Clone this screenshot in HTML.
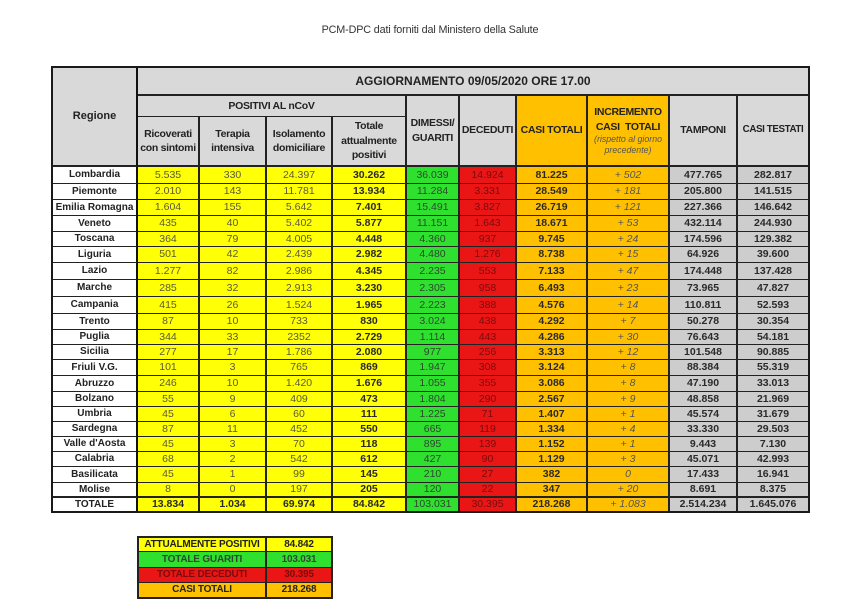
<!DOCTYPE html>
<html>
<head>
<meta charset="utf-8">
<style>
html,body{margin:0;padding:0;background:#fff;}
body{width:851px;height:614px;position:relative;overflow:hidden;font-family:"Liberation Sans",Arial,sans-serif;}
.title{position:absolute;left:0;top:24px;width:860px;text-align:center;font-size:10.8px;color:#333;letter-spacing:-0.15px;}
.t{position:absolute;left:51px;top:66px;width:755px;border:2px solid #1a1a1a;display:grid;
grid-template-columns:85px 62px 67px 66px 74px 53px 57px 71px 82px 68px 70px;
grid-template-rows:28px 21px 50px 17px 16px 16px 16px 15px 16px 17px 17px 17px 16px 15px 15px 16px 16px 15px 15px 15px 15px 15px 16px 15px 13px;
background:#fff;}
.t>div{box-sizing:border-box;border-right:2px solid #222;border-bottom:1px solid #222;display:flex;align-items:center;justify-content:center;text-align:center;overflow:hidden;line-height:1;font-size:10.5px;white-space:nowrap;}
.h{background:#d9d9d9;color:#222;font-weight:bold;font-size:10.5px !important;line-height:14.5px !important;letter-spacing:-0.3px;}
.ho{background:#ffc000;color:#222;font-weight:bold;font-size:10.5px !important;line-height:14.5px !important;letter-spacing:-0.3px;}
.bb{border-bottom:2px solid #222 !important;}
.nr{border-right:none !important;}
.c0{background:#fff;color:#222;font-weight:bold;font-size:10px !important;border-right:2px solid #111 !important;}
.y{background:#ffff05;color:#5a5a3a;}
.yb{background:#ffff05;color:#2a2a2a;font-weight:bold;}
.g{background:#2fe02f;color:#2b4a2b;}
.r{background:#ea1515;color:#7a0c0c;}
.o{background:#ffc000;color:#2a2a2a;font-weight:bold;}
.oi{background:#ffc000;color:#555;font-style:italic;}
.gr{background:#cdcdcd;color:#2a2a2a;font-weight:bold;}
.sm{font-style:italic;font-weight:normal;font-size:8.8px;line-height:11px;color:#555;letter-spacing:0;}
.s{position:absolute;left:137px;top:536px;width:192px;border:2px solid #222;display:grid;grid-template-columns:128px 64px;grid-template-rows:14px 16px 15px 14px;}
.s>div{box-sizing:border-box;border-right:2px solid #222;border-bottom:1px solid #222;display:flex;align-items:center;justify-content:center;font-weight:bold;font-size:10px;color:#222;white-space:nowrap;line-height:1;letter-spacing:-0.2px;}
.s>div:nth-child(2n){border-right:none;}
.s>div:nth-last-child(-n+2){border-bottom:none;}
</style>
</head>
<body>
<div class="title">PCM-DPC dati forniti dal Ministero della Salute</div>

<div class="t">
<div class="h" style="grid-row:1/4;grid-column:1;border-right:2px solid #111;border-bottom:2px solid #222;font-size:11px !important;letter-spacing:0;">Regione</div>
<div class="h nr" style="grid-row:1;grid-column:2/12;border-bottom:2px solid #222;font-size:12px !important;letter-spacing:0;">AGGIORNAMENTO 09/05/2020 ORE 17.00</div>
<div class="h" style="grid-row:2;grid-column:2/6;">POSITIVI AL nCoV</div>
<div class="h bb" style="grid-row:3;grid-column:2;">Ricoverati<br>con sintomi</div>
<div class="h bb" style="grid-row:3;grid-column:3;">Terapia<br>intensiva</div>
<div class="h bb" style="grid-row:3;grid-column:4;">Isolamento<br>domiciliare</div>
<div class="h bb" style="grid-row:3;grid-column:5;">Totale<br>attualmente<br>positivi</div>
<div class="h bb" style="grid-row:2/4;grid-column:6;">DIMESSI/<br>GUARITI</div>
<div class="h bb" style="grid-row:2/4;grid-column:7;">DECEDUTI</div>
<div class="ho bb" style="grid-row:2/4;grid-column:8;">CASI TOTALI</div>
<div class="ho bb" style="grid-row:2/4;grid-column:9;flex-direction:column;">INCREMENTO<br>CASI&nbsp; TOTALI<span class="sm">(rispetto al giorno<br>precedente)</span></div>
<div class="h bb" style="grid-row:2/4;grid-column:10;">TAMPONI</div>
<div class="h bb nr" style="grid-row:2/4;grid-column:11;font-size:9.8px !important;letter-spacing:-0.4px;">CASI TESTATI</div>

<div class="c0">Lombardia</div><div class="y">5.535</div><div class="y">330</div><div class="y">24.397</div><div class="yb">30.262</div><div class="g">36.039</div><div class="r">14.924</div><div class="o">81.225</div><div class="oi">+ 502</div><div class="gr">477.765</div><div class="gr nr">282.817</div>
<div class="c0">Piemonte</div><div class="y">2.010</div><div class="y">143</div><div class="y">11.781</div><div class="yb">13.934</div><div class="g">11.284</div><div class="r">3.331</div><div class="o">28.549</div><div class="oi">+ 181</div><div class="gr">205.800</div><div class="gr nr">141.515</div>
<div class="c0">Emilia Romagna</div><div class="y">1.604</div><div class="y">155</div><div class="y">5.642</div><div class="yb">7.401</div><div class="g">15.491</div><div class="r">3.827</div><div class="o">26.719</div><div class="oi">+ 121</div><div class="gr">227.366</div><div class="gr nr">146.642</div>
<div class="c0">Veneto</div><div class="y">435</div><div class="y">40</div><div class="y">5.402</div><div class="yb">5.877</div><div class="g">11.151</div><div class="r">1.643</div><div class="o">18.671</div><div class="oi">+ 53</div><div class="gr">432.114</div><div class="gr nr">244.930</div>
<div class="c0">Toscana</div><div class="y">364</div><div class="y">79</div><div class="y">4.005</div><div class="yb">4.448</div><div class="g">4.360</div><div class="r">937</div><div class="o">9.745</div><div class="oi">+ 24</div><div class="gr">174.596</div><div class="gr nr">129.382</div>
<div class="c0">Liguria</div><div class="y">501</div><div class="y">42</div><div class="y">2.439</div><div class="yb">2.982</div><div class="g">4.480</div><div class="r">1.276</div><div class="o">8.738</div><div class="oi">+ 15</div><div class="gr">64.926</div><div class="gr nr">39.600</div>
<div class="c0">Lazio</div><div class="y">1.277</div><div class="y">82</div><div class="y">2.986</div><div class="yb">4.345</div><div class="g">2.235</div><div class="r">553</div><div class="o">7.133</div><div class="oi">+ 47</div><div class="gr">174.448</div><div class="gr nr">137.428</div>
<div class="c0">Marche</div><div class="y">285</div><div class="y">32</div><div class="y">2.913</div><div class="yb">3.230</div><div class="g">2.305</div><div class="r">958</div><div class="o">6.493</div><div class="oi">+ 23</div><div class="gr">73.965</div><div class="gr nr">47.827</div>
<div class="c0">Campania</div><div class="y">415</div><div class="y">26</div><div class="y">1.524</div><div class="yb">1.965</div><div class="g">2.223</div><div class="r">388</div><div class="o">4.576</div><div class="oi">+ 14</div><div class="gr">110.811</div><div class="gr nr">52.593</div>
<div class="c0">Trento</div><div class="y">87</div><div class="y">10</div><div class="y">733</div><div class="yb">830</div><div class="g">3.024</div><div class="r">438</div><div class="o">4.292</div><div class="oi">+ 7</div><div class="gr">50.278</div><div class="gr nr">30.354</div>
<div class="c0">Puglia</div><div class="y">344</div><div class="y">33</div><div class="y">2352</div><div class="yb">2.729</div><div class="g">1.114</div><div class="r">443</div><div class="o">4.286</div><div class="oi">+ 30</div><div class="gr">76.643</div><div class="gr nr">54.181</div>
<div class="c0">Sicilia</div><div class="y">277</div><div class="y">17</div><div class="y">1.786</div><div class="yb">2.080</div><div class="g">977</div><div class="r">256</div><div class="o">3.313</div><div class="oi">+ 12</div><div class="gr">101.548</div><div class="gr nr">90.885</div>
<div class="c0">Friuli V.G.</div><div class="y">101</div><div class="y">3</div><div class="y">765</div><div class="yb">869</div><div class="g">1.947</div><div class="r">308</div><div class="o">3.124</div><div class="oi">+ 8</div><div class="gr">88.384</div><div class="gr nr">55.319</div>
<div class="c0">Abruzzo</div><div class="y">246</div><div class="y">10</div><div class="y">1.420</div><div class="yb">1.676</div><div class="g">1.055</div><div class="r">355</div><div class="o">3.086</div><div class="oi">+ 8</div><div class="gr">47.190</div><div class="gr nr">33.013</div>
<div class="c0">Bolzano</div><div class="y">55</div><div class="y">9</div><div class="y">409</div><div class="yb">473</div><div class="g">1.804</div><div class="r">290</div><div class="o">2.567</div><div class="oi">+ 9</div><div class="gr">48.858</div><div class="gr nr">21.969</div>
<div class="c0">Umbria</div><div class="y">45</div><div class="y">6</div><div class="y">60</div><div class="yb">111</div><div class="g">1.225</div><div class="r">71</div><div class="o">1.407</div><div class="oi">+ 1</div><div class="gr">45.574</div><div class="gr nr">31.679</div>
<div class="c0">Sardegna</div><div class="y">87</div><div class="y">11</div><div class="y">452</div><div class="yb">550</div><div class="g">665</div><div class="r">119</div><div class="o">1.334</div><div class="oi">+ 4</div><div class="gr">33.330</div><div class="gr nr">29.503</div>
<div class="c0">Valle d'Aosta</div><div class="y">45</div><div class="y">3</div><div class="y">70</div><div class="yb">118</div><div class="g">895</div><div class="r">139</div><div class="o">1.152</div><div class="oi">+ 1</div><div class="gr">9.443</div><div class="gr nr">7.130</div>
<div class="c0">Calabria</div><div class="y">68</div><div class="y">2</div><div class="y">542</div><div class="yb">612</div><div class="g">427</div><div class="r">90</div><div class="o">1.129</div><div class="oi">+ 3</div><div class="gr">45.071</div><div class="gr nr">42.993</div>
<div class="c0">Basilicata</div><div class="y">45</div><div class="y">1</div><div class="y">99</div><div class="yb">145</div><div class="g">210</div><div class="r">27</div><div class="o">382</div><div class="oi">0</div><div class="gr">17.433</div><div class="gr nr">16.941</div>
<div class="c0 bb">Molise</div><div class="y bb">8</div><div class="y bb">0</div><div class="y bb">197</div><div class="yb bb">205</div><div class="g bb">120</div><div class="r bb">22</div><div class="o bb">347</div><div class="oi bb">+ 20</div><div class="gr bb">8.691</div><div class="gr bb nr">8.375</div>
<div class="c0" style="border-bottom:none;">TOTALE</div><div class="yb" style="border-bottom:none;">13.834</div><div class="yb" style="border-bottom:none;">1.034</div><div class="yb" style="border-bottom:none;">69.974</div><div class="yb" style="border-bottom:none;">84.842</div><div class="g" style="border-bottom:none;">103.031</div><div class="r" style="border-bottom:none;">30.395</div><div class="o" style="border-bottom:none;">218.268</div><div class="oi" style="border-bottom:none;">+ 1.083</div><div class="gr" style="border-bottom:none;">2.514.234</div><div class="gr nr" style="border-bottom:none;">1.645.076</div>
</div>

<div class="s">
<div style="background:#ffff05;">ATTUALMENTE POSITIVI</div><div style="background:#ffff05;">84.842</div>
<div style="background:#2fe02f;color:#2b4a2b;">TOTALE GUARITI</div><div style="background:#2fe02f;color:#2b4a2b;">103.031</div>
<div style="background:#ea1515;color:#7a0c0c;">TOTALE DECEDUTI</div><div style="background:#ea1515;color:#7a0c0c;">30.395</div>
<div style="background:#ffc000;">CASI TOTALI</div><div style="background:#ffc000;">218.268</div>
</div>
</body>
</html>
